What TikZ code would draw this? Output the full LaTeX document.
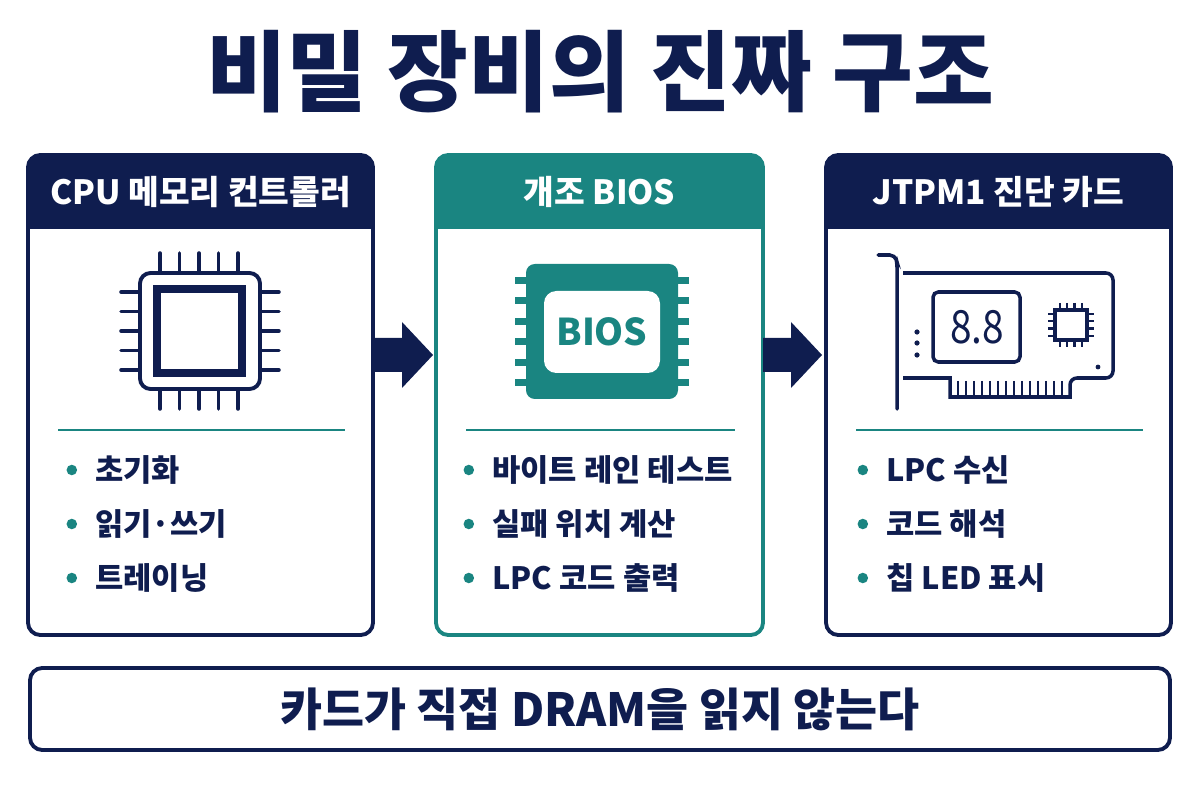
\documentclass[tikz,border=0pt]{standalone}
\usepackage{fontspec}
\setmainfont{Noto Sans CJK KR}
\usetikzlibrary{positioning,shapes.arrows}
\definecolor{navy}{HTML}{0F1D4F}
\definecolor{teal}{HTML}{1A8581}
\tikzset{
  panel/.style={draw=#1, line width=2.2pt, rounded corners=7pt},
  head/.style={fill=#1, rounded corners=7pt},
  headtxt/.style={text=white, font=\fontsize{19}{22}\selectfont\bfseries},
  item/.style={anchor=west, text=navy, font=\fontsize{17.5}{20}\selectfont\bfseries, inner sep=0pt},
  dot/.style={fill=teal, circle, inner sep=0pt, minimum size=6pt},
  pin/.style={line width=2pt, line cap=round},
}
\begin{document}
\begin{tikzpicture}[x=0.02cm,y=-0.02cm]
            \useasboundingbox (0,0) rectangle (1200,800);
            \node[text=navy, font=\fontsize{50}{56}\selectfont\bfseries] (title) at (600,72) {비밀 장비의 진짜 구조};
            % three panels
            \foreach \name/\xa/\xb/\col/\txt in {cpu/28/373/navy/CPU 메모리 컨트롤러, bios/436/763/teal/개조 BIOS, card/826/1171/navy/JTPM1 진단 카드}{
                \fill[head=\col] (\xa,155) rectangle (\xb,229);
                \fill[\col] (\xa,215) rectangle (\xb,229);
                \draw[panel=\col] (\xa,155) rectangle (\xb,635);
                \node[headtxt] (\name-head) at ({(\xa+\xb)/2},192) {\txt};
                \draw[teal, line width=1pt] ({\xa+30},430) -- ({\xb-28},430);
            }
            % items
            \foreach \n/\x/\t [count=\i] in {a/95/초기화, b/95/읽기·쓰기, c/95/트레이닝}
                \node[item] (cpu-\n) at (\x,{470+(\i-1)*54}) {\t};
            \foreach \n/\x/\t [count=\i] in {a/492/바이트 레인 테스트, b/492/실패 위치 계산, c/492/LPC 코드 출력}
                \node[item] (bios-\n) at (\x,{470+(\i-1)*54}) {\t};
            \foreach \n/\x/\t [count=\i] in {a/886/LPC 수신, b/886/코드 해석, c/886/칩 LED 표시}
                \node[item] (card-\n) at (\x,{470+(\i-1)*54}) {\t};
            \foreach \p in {cpu,bios,card}
                \foreach \n in {a,b,c}
                    \node[dot, left=10pt of \p-\n.west] {};
            % arrows
            \foreach \x in {374,763}
                \fill[navy] (\x,338) -- (\x+28,338) -- (\x+28,322) -- (\x+59,355) -- (\x+28,388) -- (\x+28,372) -- (\x,372) -- cycle;
            % cpu icon
            \draw[navy, line width=2.2pt, rounded corners=6pt] (140,273) rectangle (260,389);
            \draw[navy, line width=4.5pt] (157,289) rectangle (242,373);
            \foreach \k in {0,...,4}{
                \draw[navy, pin] (160+\k*19.5,253) -- (160+\k*19.5,271);
                \draw[navy, pin] (160+\k*19.5,391) -- (160+\k*19.5,409);
                \draw[navy, pin] (121,292+\k*19.5) -- (138,292+\k*19.5);
                \draw[navy, pin] (262,292+\k*19.5) -- (279,292+\k*19.5);
            }
            % bios chip
            \foreach \k in {0,...,5}{
                \fill[teal] (515,277+\k*20.5) rectangle (530,284+\k*20.5);
                \fill[teal] (674,277+\k*20.5) rectangle (689,284+\k*20.5);
            }
            \fill[teal, rounded corners=5pt] (526,264) rectangle (678,399);
            \fill[white, rounded corners=7pt] (544,291) rectangle (660,373);
            \node[text=teal, font=\fontsize{21}{24}\selectfont\bfseries] (bios-chip) at (602,332) {BIOS};
            % diagnostic card
            \draw[navy, line width=2pt, line cap=round, rounded corners=3pt] (878,255) -- (895,255) -- (897,262) -- (897,409);
            \draw[navy, line width=2pt, rounded corners=4pt] (903,273) -- (1113,273) -- (1113,378) -- (1070,378) [sharp corners] -- (1070,397) -- (950,397) -- (950,378) -- (903,378);
            \foreach \k in {0,...,13}
                \draw[navy, line width=1.5pt] (958+\k*8,381) -- (958+\k*8,395);
            \draw[navy, line width=2pt, rounded corners=3pt] (933,292) rectangle (1020,362);
            \node[text=navy, font=\fontsize{26}{28}\selectfont\itshape, xscale=0.85] (card-seg) at (977,327) {8.8};
            \draw[navy, line width=2pt] (1055,310) rectangle (1087,340);
            \foreach \k in {0,...,3}{
                \draw[navy, line width=1.3pt] (1060+\k*7.3,303) -- (1060+\k*7.3,310);
                \draw[navy, line width=1.3pt] (1060+\k*7.3,340) -- (1060+\k*7.3,347);
                \draw[navy, line width=1.3pt] (1048,314+\k*7.3) -- (1055,314+\k*7.3);
                \draw[navy, line width=1.3pt] (1087,314+\k*7.3) -- (1094,314+\k*7.3);
            }
            \foreach \y in {332,343,355}
                \fill[navy] (917,\y) circle (2.6);
            \fill[navy] (1098,367) circle (2.4);
            % bottom note
            \draw[panel=navy] (30,668) rectangle (1170,750);
            \node[text=navy, font=\fontsize{26}{30}\selectfont\bfseries] (note) at (600,709) {카드가 직접 DRAM을 읽지 않는다};
        \end{tikzpicture}
\end{document}
